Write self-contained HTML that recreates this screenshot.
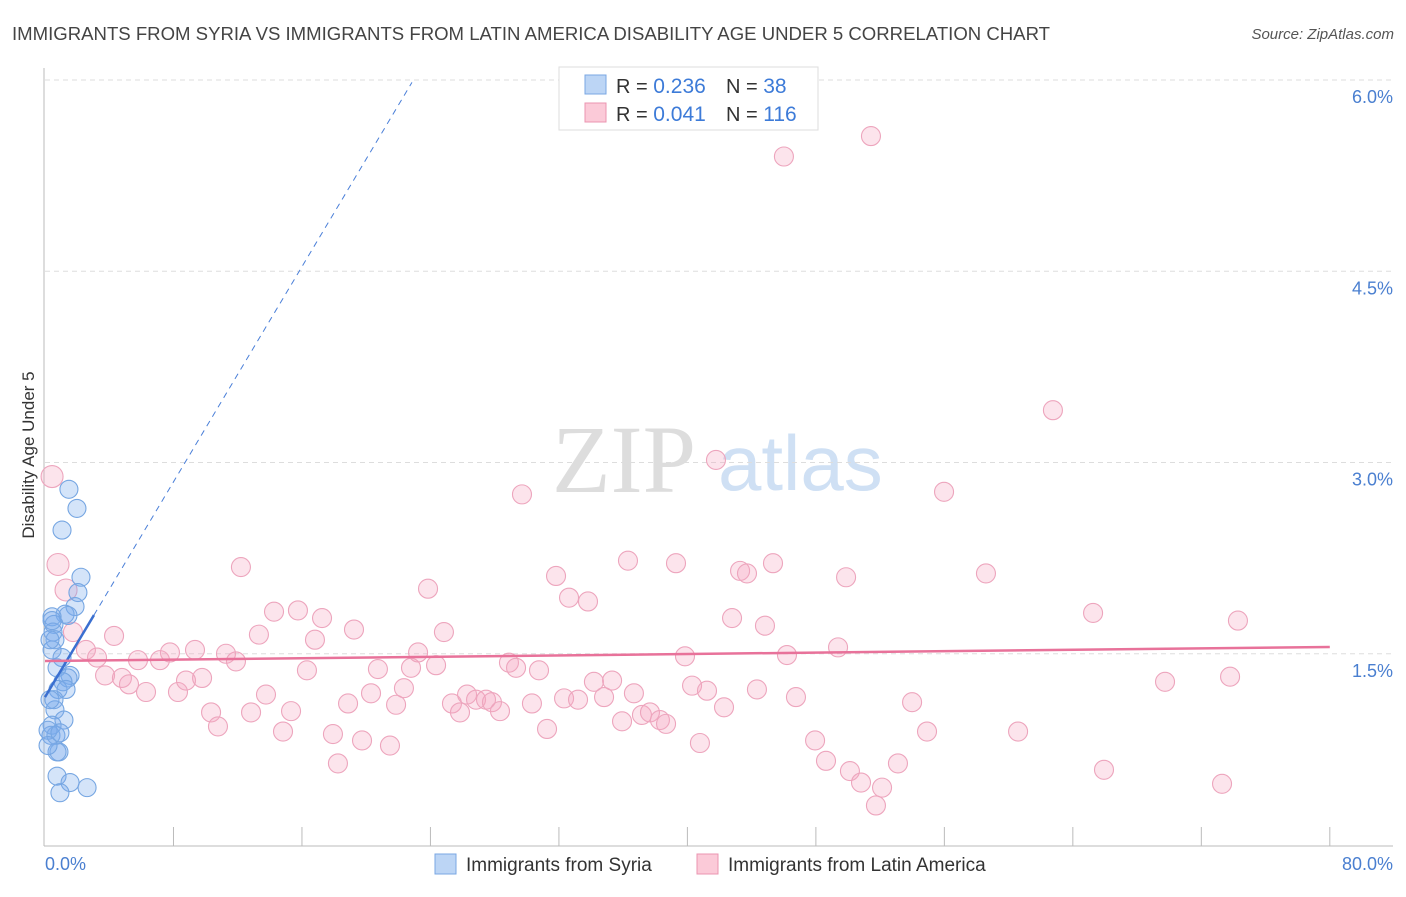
<!DOCTYPE html>
<html><head><meta charset="utf-8"><style>
body{margin:0;background:#fff;font-family:"Liberation Sans",sans-serif}
svg text{font-family:"Liberation Sans",sans-serif}
</style></head><body>
<svg id="chart" width="1406" height="892" xmlns="http://www.w3.org/2000/svg">
<text x="12" y="40" font-size="18" fill="#444" textLength="1038" lengthAdjust="spacingAndGlyphs">IMMIGRANTS FROM SYRIA VS IMMIGRANTS FROM LATIN AMERICA DISABILITY AGE UNDER 5 CORRELATION CHART</text>
<text x="1394" y="39" font-size="15" fill="#555" font-style="italic" text-anchor="end">Source: ZipAtlas.com</text>
<text transform="translate(34,455) rotate(-90)" font-size="17" fill="#333" text-anchor="middle">Disability Age Under 5</text>
<g>
<text x="552" y="492" font-size="96" fill="#ddd" font-family="Liberation Serif" style="font-family:'Liberation Serif',serif">ZIP</text>
<text x="718" y="490" font-size="78" fill="#cfe0f4">atlas</text>
</g>
<g id="grid"></g><g id="axes"></g><g id="pts"></g><g id="trend"></g>
<g>
<rect x="559" y="67" width="259" height="63" fill="#fff" stroke="#ddd"/>
<rect x="585" y="75" width="21" height="19" fill="#bcd5f5" stroke="#7aa7e3"/>
<rect x="585" y="103" width="21" height="19" fill="#fbcad8" stroke="#eb94b0"/>
<text x="616" y="93" font-size="20" fill="#333">R = <tspan fill="#3d7bd8" font-size="21">0.236</tspan></text>
<text x="726" y="93" font-size="20" fill="#333">N = <tspan fill="#3d7bd8" font-size="21"> 38</tspan></text>
<text x="616" y="121" font-size="20" fill="#333">R = <tspan fill="#3d7bd8" font-size="21">0.041</tspan></text>
<text x="726" y="121" font-size="20" fill="#333">N = <tspan fill="#3d7bd8" font-size="21">116</tspan></text>
</g>
<g>
<rect x="435" y="854" width="21" height="20" fill="#bcd5f5" stroke="#7aa7e3"/>
<text x="466" y="871" font-size="19" fill="#333">Immigrants from Syria</text>
<rect x="697" y="854" width="21" height="20" fill="#fbcad8" stroke="#eb94b0"/>
<text x="728" y="871" font-size="19" fill="#333">Immigrants from Latin America</text>
</g>
</svg>
<script>
const yTicks=[1.5,3.0,4.5,6.0];
const yTickLabels=["1.5%","3.0%","4.5%","6.0%"];
const xTicks=[0,8,16,24,32,40,48,56,64,72,80];
const syriaX=[1.49,1.99,1.06,2.24,2.05,1.87,1.25,1.43,0.44,0.56,0.50,0.62,0.44,1.06,0.75,1.56,1.43,1.12,0.81,1.31,0.56,0.62,1.18,0.44,0.37,0.68,0.19,0.93,0.87,0.75,0.75,1.56,0.93,2.62,0.44,0.31,0.31,0.19];
const syriaY=[2.79,2.64,2.47,2.10,1.98,1.87,1.81,1.80,1.79,1.73,1.67,1.61,1.53,1.47,1.39,1.33,1.31,1.28,1.22,1.22,1.14,1.06,0.98,0.94,0.86,0.86,0.90,0.88,0.73,0.73,0.54,0.49,0.41,0.45,1.76,1.61,1.14,0.78];
const latX=[0.44,0.81,1.31,1.74,2.55,3.24,3.74,4.30,4.79,5.23,5.79,6.29,7.16,7.78,8.28,8.78,9.34,9.78,10.34,10.77,11.27,11.89,12.20,12.83,13.32,13.76,14.26,14.82,15.32,15.75,16.31,16.81,17.25,17.93,18.24,18.87,19.24,19.74,20.30,20.73,21.48,21.86,22.35,22.79,23.23,23.85,24.35,24.84,25.34,25.84,26.28,26.84,27.46,27.83,28.33,28.89,29.33,29.70,30.32,30.76,31.26,31.82,32.32,32.63,33.19,33.81,34.18,34.81,35.31,35.93,36.30,36.67,37.17,37.67,38.29,38.67,39.29,39.85,40.29,40.78,41.22,41.78,42.28,42.78,43.28,43.71,44.33,44.83,45.33,46.01,46.20,46.76,47.95,48.63,49.38,49.88,50.12,50.81,51.43,51.74,52.12,53.11,53.99,54.92,55.98,58.59,60.59,62.76,65.26,65.94,69.74,73.29,73.79,74.28];
const latY=[2.89,2.20,2.00,1.67,1.53,1.47,1.33,1.64,1.31,1.26,1.45,1.20,1.45,1.51,1.20,1.29,1.53,1.31,1.04,0.93,1.50,1.44,2.18,1.04,1.65,1.18,1.83,0.89,1.05,1.84,1.37,1.61,1.78,0.87,0.64,1.11,1.69,0.82,1.19,1.38,0.78,1.10,1.23,1.39,1.51,2.01,1.41,1.67,1.11,1.04,1.18,1.14,1.14,1.12,1.05,1.43,1.39,2.75,1.11,1.37,0.91,2.11,1.15,1.94,1.14,1.91,1.28,1.16,1.29,0.97,2.23,1.19,1.02,1.04,0.98,0.95,2.21,1.48,1.25,0.80,1.21,3.02,1.08,1.78,2.15,2.13,1.22,1.72,2.21,5.40,1.49,1.16,0.82,0.66,1.55,2.10,0.58,0.49,5.56,0.31,0.45,0.64,1.12,0.89,2.77,2.13,0.89,3.41,1.82,0.59,1.28,0.48,1.32,1.76];
const syriaTrend=[1.16,0.211]; // intercept, slope
const latTrend=[1.443,0.001375];
const X=v=>45+v*16.06, Y=v=>845-v*127.5;
const NS="http://www.w3.org/2000/svg";
function mk(tag,attrs,parent){const e=document.createElementNS(NS,tag);for(const k in attrs)e.setAttribute(k,attrs[k]);document.getElementById(parent).appendChild(e);return e;}
yTicks.forEach((t,i)=>{
 const l=mk('line',{x1:45,x2:1393,y1:Y(t),y2:Y(t),stroke:'#ddd','stroke-dasharray':'5,4'},'grid');
 
 
 const tx=mk('text',{x:1393,y:Y(t)+23,'font-size':18,fill:'#4a7fd0','text-anchor':'end'},'grid');
 tx.textContent=yTickLabels[i];
 
 
});
const ax=mk('line',{x1:44,x2:44,y1:68,y2:846,stroke:'#bbb'},'axes');


const bx=mk('line',{x1:44,x2:1393,y1:846,y2:846,stroke:'#bbb'},'axes');


xTicks.forEach(t=>{if(t===0)return;
 const l=mk('line',{x1:X(t),x2:X(t),y1:827,y2:846,stroke:'#bbb'},'axes');
 
 
});
const x0=mk('text',{x:45,y:870,'font-size':18,fill:'#4a7fd0'},'axes');x0.textContent='0.0%';


const x1=mk('text',{x:1393,y:870,'font-size':18,fill:'#4a7fd0','text-anchor':'end'},'axes');x1.textContent='80.0%';


latX.forEach((v,i)=>{
 const c=mk('circle',{cx:X(v),cy:Y(latY[i]),r:i<3?11:9.5,fill:'rgba(245,165,192,0.3)',stroke:'#eda5bd','stroke-width':1.1},'pts');
 
 
});
syriaX.forEach((v,i)=>{
 const c=mk('circle',{cx:X(v),cy:Y(syriaY[i]),r:9,fill:'rgba(120,170,235,0.32)',stroke:'#76a6e2','stroke-width':1.1},'pts');
 
 
});
const sy=x=>syriaTrend[0]+syriaTrend[1]*x;
const d=mk('line',{x1:X(3.05),y1:Y(sy(3.05)),x2:X(22.85),y2:Y(sy(22.85)),stroke:'#4a7fd8','stroke-dasharray':'6,5','stroke-width':1},'trend');


const s=mk('line',{x1:X(0),y1:Y(sy(0)),x2:X(3.05),y2:Y(sy(3.05)),stroke:'#3a6fd0','stroke-width':2.5},'trend');


const ly=x=>latTrend[0]+latTrend[1]*x;
const p=mk('line',{x1:X(0),y1:Y(ly(0)),x2:X(80),y2:Y(ly(80)),stroke:'#e8729a','stroke-width':2.5},'trend');


</script>
</body></html>
